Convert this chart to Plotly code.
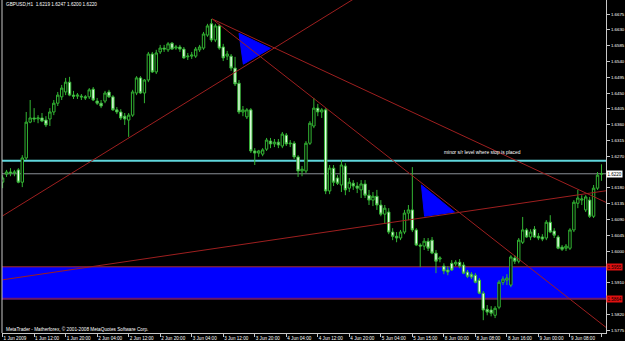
import plotly.graph_objects as go

# ---------------- data (GBPUSD, H1) ----------------
bars = list(range(153))
opens = [1.6196, 1.6219, 1.6225, 1.6222, 1.6231, 1.6196, 1.6265, 1.6367, 1.6379, 1.6376,
         1.6379, 1.6373, 1.6376, 1.6396, 1.6421, 1.6439, 1.6453, 1.6481, 1.6444, 1.6441,
         1.6441, 1.6439, 1.6439, 1.6461, 1.6427, 1.6421, 1.6427, 1.6453, 1.6439, 1.6402,
         1.6396, 1.6384, 1.6373, 1.6387, 1.6450, 1.6493, 1.6450, 1.6487, 1.6561, 1.6510,
         1.6567, 1.6578, 1.6573, 1.6592, 1.6578, 1.6581, 1.6575, 1.6553, 1.6555, 1.6555,
         1.6573, 1.6578, 1.6615, 1.6647, 1.6601, 1.6641, 1.6581, 1.6555, 1.6555, 1.6521,
         1.6478, 1.6396, 1.6382, 1.6402, 1.6285, 1.6279, 1.6276, 1.6290, 1.6313, 1.6305,
         1.6310, 1.6299, 1.6330, 1.6305, 1.6307, 1.6268, 1.6228, 1.6228, 1.6307, 1.6356,
         1.6407, 1.6396, 1.6402, 1.6171, 1.6236, 1.6208, 1.6188, 1.6242, 1.6179, 1.6193,
         1.6185, 1.6174, 1.6191, 1.6159, 1.6145, 1.6156, 1.6131, 1.6105, 1.6111, 1.6054,
         1.6042, 1.6037, 1.6054, 1.6108, 1.6117, 1.6060, 1.6017, 1.6014, 1.6028, 1.6031,
         1.5994, 1.5977, 1.5957, 1.5946, 1.5965, 1.5963, 1.5968, 1.5960, 1.5940, 1.5934,
         1.5931, 1.5917, 1.5880, 1.5834, 1.5832, 1.5817, 1.5840, 1.5911, 1.5917, 1.5903,
         1.5980, 1.5971, 1.6025, 1.6060, 1.6040, 1.6062, 1.6042, 1.6040, 1.6037, 1.6082,
         1.6057, 1.6040, 1.6011, 1.6008, 1.6008, 1.6060, 1.6136, 1.6145, 1.6117, 1.6145,
         1.6099, 1.6179, 1.6219]
highs = [1.6216, 1.6231, 1.6236, 1.6231, 1.6236, 1.6273, 1.6396, 1.6430, 1.6407, 1.6387,
         1.6393, 1.6384, 1.6407, 1.6430, 1.6453, 1.6473, 1.6493, 1.6496, 1.6456, 1.6450,
         1.6447, 1.6444, 1.6464, 1.6467, 1.6436, 1.6430, 1.6456, 1.6459, 1.6444, 1.6410,
         1.6404, 1.6393, 1.6393, 1.6459, 1.6498, 1.6498, 1.6490, 1.6567, 1.6567, 1.6573,
         1.6587, 1.6587, 1.6595, 1.6595, 1.6587, 1.6587, 1.6581, 1.6564, 1.6567, 1.6581,
         1.6587, 1.6624, 1.6647, 1.6661, 1.6647, 1.6647, 1.6590, 1.6570, 1.6561, 1.6553,
         1.6487, 1.6413, 1.6407, 1.6407, 1.6293, 1.6288, 1.6293, 1.6322, 1.6322, 1.6319,
         1.6319, 1.6339, 1.6336, 1.6316, 1.6313, 1.6273, 1.6242, 1.6313, 1.6370, 1.6436,
         1.6419, 1.6407, 1.6407, 1.6245, 1.6245, 1.6216, 1.6259, 1.6250, 1.6208, 1.6202,
         1.6196, 1.6202, 1.6202, 1.6174, 1.6168, 1.6174, 1.6145, 1.6131, 1.6122, 1.6065,
         1.6054, 1.6060, 1.6117, 1.6131, 1.6239, 1.6065, 1.6022, 1.6037, 1.6037, 1.6040,
         1.6003, 1.5985, 1.5965, 1.5957, 1.5974, 1.5974, 1.5977, 1.5968, 1.5946, 1.5940,
         1.5937, 1.5923, 1.5886, 1.5846, 1.5843, 1.5843, 1.5917, 1.5928, 1.5934, 1.5988,
         1.5988, 1.6037, 1.6097, 1.6065, 1.6062, 1.6071, 1.6051, 1.6048, 1.6088, 1.6102,
         1.6065, 1.6045, 1.6017, 1.6020, 1.6065, 1.6145, 1.6174, 1.6159, 1.6159, 1.6154,
         1.6188, 1.6225, 1.6247]
lows = [1.6179, 1.6211, 1.6213, 1.6213, 1.6193, 1.6182, 1.6259, 1.6364, 1.6367, 1.6364,
        1.6367, 1.6353, 1.6356, 1.6387, 1.6413, 1.6430, 1.6444, 1.6441, 1.6433, 1.6433,
        1.6430, 1.6430, 1.6433, 1.6427, 1.6416, 1.6407, 1.6421, 1.6436, 1.6399, 1.6390,
        1.6373, 1.6359, 1.6325, 1.6382, 1.6444, 1.6447, 1.6421, 1.6481, 1.6507, 1.6504,
        1.6561, 1.6567, 1.6567, 1.6573, 1.6573, 1.6567, 1.6547, 1.6544, 1.6547, 1.6550,
        1.6567, 1.6573, 1.6610, 1.6595, 1.6595, 1.6573, 1.6541, 1.6544, 1.6513, 1.6470,
        1.6390, 1.6384, 1.6376, 1.6279, 1.6245, 1.6268, 1.6270, 1.6285, 1.6293, 1.6296,
        1.6293, 1.6293, 1.6299, 1.6296, 1.6262, 1.6211, 1.6213, 1.6222, 1.6302, 1.6350,
        1.6384, 1.6379, 1.6162, 1.6162, 1.6185, 1.6188, 1.6168, 1.6159, 1.6168, 1.6174,
        1.6165, 1.6151, 1.6151, 1.6131, 1.6128, 1.6117, 1.6099, 1.6077, 1.6048, 1.6031,
        1.6025, 1.6031, 1.6048, 1.6088, 1.6054, 1.6014, 1.5954, 1.6003, 1.6000, 1.5991,
        1.5937, 1.5968, 1.5934, 1.5931, 1.5943, 1.5957, 1.5951, 1.5934, 1.5923, 1.5920,
        1.5908, 1.5877, 1.5803, 1.5817, 1.5814, 1.5809, 1.5834, 1.5903, 1.5903, 1.5897,
        1.5963, 1.5965, 1.6020, 1.6037, 1.6031, 1.6037, 1.6031, 1.6028, 1.6031, 1.6051,
        1.6037, 1.6005, 1.6000, 1.6000, 1.6003, 1.6054, 1.6122, 1.6131, 1.6111, 1.6094,
        1.6094, 1.6174, 1.6200]
closes = [1.6208, 1.6225, 1.6222, 1.6225, 1.6196, 1.6265, 1.6367, 1.6379, 1.6376, 1.6379,
          1.6370, 1.6359, 1.6396, 1.6421, 1.6444, 1.6464, 1.6481, 1.6444, 1.6441, 1.6444,
          1.6439, 1.6436, 1.6459, 1.6430, 1.6421, 1.6413, 1.6450, 1.6439, 1.6402, 1.6396,
          1.6379, 1.6376, 1.6387, 1.6453, 1.6493, 1.6450, 1.6487, 1.6561, 1.6510, 1.6564,
          1.6578, 1.6575, 1.6590, 1.6575, 1.6581, 1.6575, 1.6550, 1.6555, 1.6558, 1.6575,
          1.6581, 1.6618, 1.6641, 1.6601, 1.6641, 1.6578, 1.6550, 1.6561, 1.6521, 1.6476,
          1.6396, 1.6402, 1.6402, 1.6285, 1.6279, 1.6285, 1.6288, 1.6316, 1.6305, 1.6310,
          1.6302, 1.6333, 1.6305, 1.6307, 1.6268, 1.6228, 1.6233, 1.6307, 1.6364, 1.6407,
          1.6396, 1.6402, 1.6171, 1.6236, 1.6196, 1.6193, 1.6245, 1.6174, 1.6196, 1.6185,
          1.6179, 1.6191, 1.6159, 1.6145, 1.6156, 1.6131, 1.6105, 1.6122, 1.6054, 1.6042,
          1.6037, 1.6054, 1.6108, 1.6117, 1.6060, 1.6017, 1.6014, 1.6028, 1.6008, 1.5994,
          1.5971, 1.5980, 1.5943, 1.5940, 1.5946, 1.5968, 1.5957, 1.5937, 1.5928, 1.5926,
          1.5911, 1.5880, 1.5832, 1.5826, 1.5823, 1.5837, 1.5911, 1.5920, 1.5923, 1.5983,
          1.5971, 1.6031, 1.6060, 1.6040, 1.6054, 1.6040, 1.6037, 1.6034, 1.6082, 1.6054,
          1.6045, 1.6008, 1.6005, 1.6014, 1.6060, 1.6139, 1.6151, 1.6148, 1.6154, 1.6099,
          1.6179, 1.6216, 1.6220]

x_tick_bars = list(range(0, 153, 8))
x_tick_labels = ["1 Jun 2009", "1 Jun 12:00", "1 Jun 20:00", "2 Jun 04:00", "2 Jun 12:00",
                 "2 Jun 20:00", "3 Jun 04:00", "3 Jun 12:00", "3 Jun 20:00", "4 Jun 04:00",
                 "4 Jun 12:00", "4 Jun 20:00", "5 Jun 04:00", "5 Jun 15:00", "8 Jun 00:00",
                 "8 Jun 08:00", "8 Jun 16:00", "9 Jun 00:00", "9 Jun 08:00", "9 Jun 16:00"]
y_tick_vals = [1.6675, 1.6630, 1.6585, 1.6540, 1.6495, 1.6450, 1.6405, 1.6360, 1.6315, 1.6270,
               1.6180, 1.6135, 1.6090, 1.6045, 1.6000, 1.5910, 1.5820, 1.5775]

# drawing objects (bar index, price)
support_level = 1.6257          # cyan "minor s/r" line
bid_price = 1.6220
zone_top = 1.5955
zone_bottom = 1.5864
trend_up_steep_x = [0, 90]
trend_up_steep_y = [1.6100, 1.6724]
trend_up_flat_x = [0, 154]
trend_up_flat_y = [1.5918, 1.6173]
trend_down_shallow_x = [53.2, 154]
trend_down_shallow_y = [1.6661, 1.6134]
trend_down_steep_x = [53.2, 154]
trend_down_steep_y = [1.6661, 1.5775]
tri1_x = [60.0, 68.0, 61.1]
tri1_y = [1.6620, 1.6577, 1.6532]
tri2_x = [106.3, 114.7, 107.1]
tri2_y = [1.6188, 1.6111, 1.6099]
note_x, note_y = 111.4, 1.6281

# ---------------- figure ----------------
FONT = "Liberation Sans"
GREEN = "#33b533"
TREND = "#9e1f1f"

fig = go.Figure()

for tx, ty in [(tri1_x, tri1_y), (tri2_x, tri2_y)]:
    fig.add_trace(go.Scatter(x=tx + tx[:1], y=ty + ty[:1], mode="lines", fill="toself",
                             fillcolor="#0000ff", line=dict(color="#0000ff", width=1),
                             hoverinfo="skip", showlegend=False))

fig.add_trace(go.Candlestick(
    x=bars, open=opens, high=highs, low=lows, close=closes,
    increasing=dict(line=dict(color=GREEN, width=1), fillcolor="#000000"),
    decreasing=dict(line=dict(color=GREEN, width=1), fillcolor="#eaffea"),
    whiskerwidth=0, showlegend=False))

for tx, ty in [(trend_up_steep_x, trend_up_steep_y), (trend_up_flat_x, trend_up_flat_y),
               (trend_down_shallow_x, trend_down_shallow_y),
               (trend_down_steep_x, trend_down_steep_y)]:
    fig.add_trace(go.Scatter(x=tx, y=ty, mode="lines", line=dict(color=TREND, width=1),
                             hoverinfo="skip", showlegend=False))

shapes = [
    dict(type="rect", xref="paper", yref="y", x0=0, x1=1, y0=zone_bottom, y1=zone_top,
         fillcolor="#0000ff", line=dict(width=0), layer="below"),
    dict(type="line", xref="paper", yref="y", x0=0, x1=1, y0=zone_top, y1=zone_top,
         line=dict(color="#a52a2a", width=1), layer="below"),
    dict(type="line", xref="paper", yref="y", x0=0, x1=1, y0=zone_bottom, y1=zone_bottom,
         line=dict(color="#6a1a6a", width=2), layer="below"),
    dict(type="line", xref="paper", yref="y", x0=0, x1=1, y0=support_level, y1=support_level,
         line=dict(color="#5fd6dc", width=2), layer="below"),
    dict(type="line", xref="paper", yref="y", x0=0, x1=1, y0=bid_price, y1=bid_price,
         line=dict(color="#8a8f96", width=1), layer="below"),
    dict(type="line", xref="paper", yref="paper", x0=0, x1=0, y0=0, y1=1,
         line=dict(color="#c8c8c8", width=1)),
]

annotations = [
    dict(xref="paper", yref="paper", x=0.003, y=0.985, xanchor="left", yanchor="middle",
         text="GBPUSD,H1  1.6219 1.6247 1.6200 1.6220", showarrow=False,
         font=dict(family=FONT, size=4.7, color="#ffffff")),
    dict(xref="paper", yref="paper", x=0.003, y=0.013, xanchor="left", yanchor="middle",
         text="MetaTrader - Matherforex, © 2001-2008 MetaQuotes Software Corp.", showarrow=False,
         font=dict(family=FONT, size=4.7, color="#ffffff")),
    dict(xref="x", yref="y", x=note_x, y=note_y, xanchor="left", yanchor="middle",
         text="minor s/r level where stop is placed", showarrow=False,
         font=dict(family=FONT, size=4.9, color="#ffffff")),
]
for val, bg, fg in [(bid_price, "#ffffff", "#000000"), (zone_top, "#e01010", "#000000"),
                    (zone_bottom, "#e01010", "#000000")]:
    annotations.append(dict(xref="paper", yref="y", x=1.0, y=val, xanchor="left",
                            yanchor="middle", text=f"{val:.4f}", showarrow=False,
                            bgcolor=bg, borderpad=0.5,
                            font=dict(family=FONT, size=4.5, color=fg)))

fig.update_layout(
    width=625, height=341,
    margin=dict(l=2, r=19, t=0, b=8, pad=0, autoexpand=False),
    paper_bgcolor="#000000", plot_bgcolor="#000000",
    shapes=shapes, annotations=annotations,
    showlegend=False,
    boxgap=0.12,
    xaxis=dict(range=[-0.15, 153.15], rangeslider=dict(visible=False),
               tickmode="array", tickvals=x_tick_bars, ticktext=x_tick_labels,
               tickangle=0, automargin=False,
               ticks="outside", ticklen=3, tickcolor="#c8c8c8",
               ticklabelposition="outside right",
               tickfont=dict(family=FONT, size=4.6, color="#ffffff"),
               showgrid=False, zeroline=False, showline=True, linecolor="#c8c8c8",
               linewidth=1, fixedrange=True),
    yaxis=dict(range=[1.57665, 1.67149], side="right", automargin=False,
               tickmode="array", tickvals=y_tick_vals,
               ticktext=[f"{v:.4f}" for v in y_tick_vals],
               ticks="outside", ticklen=3, tickcolor="#c8c8c8",
               tickfont=dict(family=FONT, size=4.4, color="#ffffff"),
               showgrid=False, zeroline=False, showline=True, linecolor="#c8c8c8",
               linewidth=1, fixedrange=True),
)

fig.write_html("out.html")
